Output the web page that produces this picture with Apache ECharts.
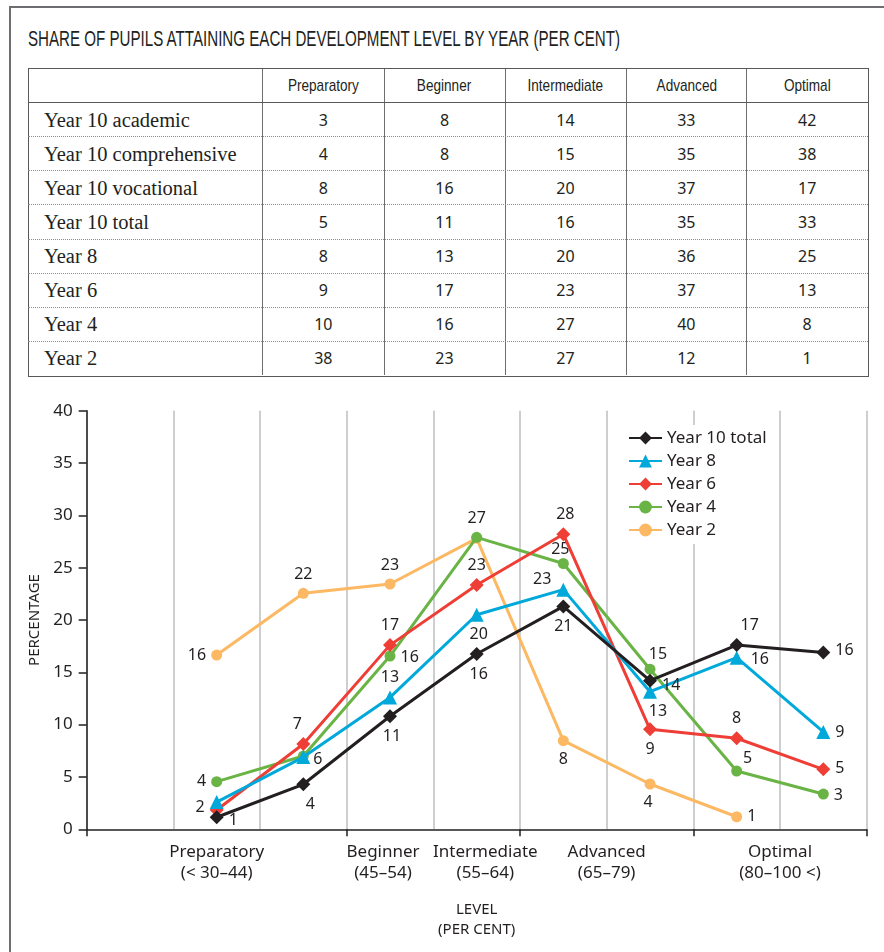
<!DOCTYPE html>
<html>
<head>
<meta charset="utf-8">
<script src="https://cdn.jsdelivr.net/npm/echarts@6/dist/echarts.min.js"></script>
<style>
html,body{margin:0;padding:0;background:#fff;}
#page{position:relative;width:884px;height:952px;overflow:hidden;background:#fff;}
#frame{position:absolute;left:9px;top:6px;width:1000px;height:1100px;border:2px solid #6d6e71;box-sizing:border-box;}
#title{position:absolute;left:28px;top:26px;font-family:'Liberation Sans',Arial,sans-serif;font-size:22px;line-height:26px;color:#231f20;white-space:nowrap;transform-origin:0 0;}
.cell{position:absolute;white-space:nowrap;color:#231f20;}
.hdr{font-family:'Liberation Sans',Arial,sans-serif;font-size:17px;text-align:center;}
.hdr span{display:inline-block;transform-origin:50% 50%;}
.rowlab{font-family:'Liberation Serif','Times New Roman',serif;font-size:20.5px;}
.num{font-family:'Noto Sans',sans-serif;font-size:16px;text-align:center;}
.line{position:absolute;}
#chart{position:absolute;left:0;top:390px;width:884px;height:562px;}
</style>
</head>
<body>
<div id="page">
  <div id="frame"></div>
  <div id="title">SHARE OF PUPILS ATTAINING EACH DEVELOPMENT LEVEL BY YEAR (PER CENT)</div>
  <div id="table"></div>
  <div id="chart"></div>
</div>
<script>
// ---------- Table data ----------
const tableColumns = ['Preparatory', 'Beginner', 'Intermediate', 'Advanced', 'Optimal'];
const tableRowNames = ['Year 10 academic', 'Year 10 comprehensive', 'Year 10 vocational', 'Year 10 total', 'Year 8', 'Year 6', 'Year 4', 'Year 2'];
const rowYear10Academic      = [3, 8, 14, 33, 42];
const rowYear10Comprehensive = [4, 8, 15, 35, 38];
const rowYear10Vocational    = [8, 16, 20, 37, 17];
const rowYear10Total         = [5, 11, 16, 35, 33];
const rowYear8               = [8, 13, 20, 36, 25];
const rowYear6               = [9, 17, 23, 37, 13];
const rowYear4               = [10, 16, 27, 40, 8];
const rowYear2               = [38, 23, 27, 12, 1];
const tableValues = [rowYear10Academic, rowYear10Comprehensive, rowYear10Vocational, rowYear10Total, rowYear8, rowYear6, rowYear4, rowYear2];

// ---------- Chart data ----------
const xPositions = [1.5, 2.5, 3.5, 4.5, 5.5, 6.5, 7.5, 8.5];
const levelLabelPositions = [1.5, 3.42, 4.6, 6, 8];
const levelLabels = ['Preparatory\n(< 30–44)', 'Beginner\n(45–54)', 'Intermediate\n(55–64)', 'Advanced\n(65–79)', 'Optimal\n(80–100 <)'];
const levelTickPositions = [0, 3, 5, 7, 9];

const year10Total       = [1.15, 4.3, 10.8, 16.75, 21.3, 14.2, 17.6, 16.9];
const year10TotalLabels = ['1', '4', '11', '16', '21', '14', '17', '16'];
const year8             = [2.6, 6.9, 12.6, 20.5, 22.9, 13.15, 16.4, 9.3];
const year8Labels       = ['', '6', '13', '20', '23', '13', '16', '9'];
const year6             = [1.84, 8.15, 17.6, 23.35, 28.2, 9.55, 8.7, 5.73];
const year6Labels       = ['2', '7', '17', '23', '28', '9', '8', '5'];
const year4             = [4.55, 7.0, 16.55, 27.9, 25.4, 15.3, 5.57, 3.37];
const year4Labels       = ['4', '', '16', '27', '25', '15', '5', '3'];
const year2             = [16.65, 22.55, 23.44, 27.8, 8.47, 4.33, 1.2];
const year2Labels       = ['16', '22', '23', '', '8', '4', '1'];

// ---------- Build table ----------
(function buildTable(){
  const tb = document.getElementById('table');
  const colX = [28, 262.7, 384, 505, 626, 746.7, 867.7];
  const top = 68.7, headerH = 34, rowH = 34.08;
  const bottom = top + headerH + rowH * tableRowNames.length;
  const add = (html) => { tb.insertAdjacentHTML('beforeend', html); };
  add(`<div class="line" style="left:${colX[0]-0.5}px;top:${top-0.5}px;width:${colX[6]-colX[0]}px;height:${bottom-top}px;border:1.5px solid #58595b;box-sizing:content-box"></div>`);
  for (let i = 1; i < 6; i++) add(`<div class="line" style="left:${colX[i]-0.5}px;top:${top}px;width:0;height:${bottom-top}px;border-left:1.3px solid #6d6e71"></div>`);
  add(`<div class="line" style="left:${colX[0]}px;top:${top+headerH-0.5}px;width:${colX[6]-colX[0]}px;height:0;border-top:1.3px solid #58595b"></div>`);
  for (let r = 1; r < tableRowNames.length; r++) {
    const y = top + headerH + rowH * r;
    add(`<div class="line" style="left:${colX[0]}px;top:${y-0.5}px;width:${colX[6]-colX[0]}px;height:0;border-top:1px dotted #8a8c8e"></div>`);
  }
  tableColumns.forEach((c, i) => {
    add(`<div class="cell hdr" style="left:${colX[i+1]}px;width:${colX[i+2]-colX[i+1]}px;top:${top}px;height:${headerH}px;line-height:${headerH}px"><span>${c}</span></div>`);
  });
  tableRowNames.forEach((name, r) => {
    const y = top + headerH + rowH * r;
    add(`<div class="cell rowlab" style="left:44px;top:${y}px;height:${rowH}px;line-height:${rowH}px">${name}</div>`);
    tableValues[r].forEach((v, i) => {
      add(`<div class="cell num" style="left:${colX[i+1]}px;width:${colX[i+2]-colX[i+1]}px;top:${y}px;height:${rowH}px;line-height:${rowH}px">${v}</div>`);
    });
  });
  const spans = tb.querySelectorAll('.hdr span');
  const w0 = spans[0].getBoundingClientRect().width;
  const k = 71 / w0;
  spans.forEach(s => s.style.transform = `scaleX(${k})`);
  const t = document.getElementById('title');
  const tw = t.getBoundingClientRect().width;
  t.style.transform = `scaleX(${592 / tw})`;
})();

// ---------- Chart ----------
const labelLayout = {
  'Year 10 total': [['right',[0,3]],['bottom',[7,0]],['bottom',[2,0]],['bottom',[2,0]],['bottom',[0,0]],['right',[0,5]],['top',[13,0]],['right',[0,-2]]],
  'Year 8':        [null,['right',[-2,2]],['top',[0,0]],['bottom',[2,0]],['left',[0,-10]],['bottom',[8,0]],['right',[2,2]],['right',[0,0]]],
  'Year 6':        [['left',[0,-3]],['top',[-6,0]],['top',[0,0]],['top',[0,0]],['top',[2,0]],['bottom',[0,0]],['top',[0,0]],['right',[0,-1]]],
  'Year 4':        [['left',[0,0]],null,['right',[0,1]],['top',[0,0]],['top',[-3,4]],['top',[8,4]],['top',[11,6]],['right',[0,1]]],
  'Year 2':        [['left',[0,0]],['top',[0,0]],['top',[0,0]],null,['bottom',[0,0]],['bottom',[-2,0]],['right',[0,0]]]
};

function buildData(name, values, labels) {
  const lay = labelLayout[name];
  return values.map((v, i) => {
    const l = lay[i];
    return {
      value: [xPositions[i], v],
      label: l && labels[i] !== '' ? { show: true, formatter: labels[i], position: l[0], offset: l[1] } : { show: false }
    };
  });
}

const textColor = '#231f20';
const seriesDefs = [
  { name: 'Year 10 total', values: year10Total, labels: year10TotalLabels, color: '#231f20', symbol: 'diamond', size: 14, z: 10 },
  { name: 'Year 8',        values: year8,       labels: year8Labels,       color: '#00a9d9', symbol: 'triangle', size: 14, z: 9 },
  { name: 'Year 6',        values: year6,       labels: year6Labels,       color: '#ee3e36', symbol: 'diamond', size: 14, z: 8 },
  { name: 'Year 4',        values: year4,       labels: year4Labels,       color: '#6ab345', symbol: 'circle', size: 11, z: 7 },
  { name: 'Year 2',        values: year2,       labels: year2Labels,       color: '#fcb862', symbol: 'circle', size: 11, z: 6 }
];

const chart = echarts.init(document.getElementById('chart'), null, { renderer: 'canvas' });
const levelLabelMap = {};
levelLabelPositions.forEach((p, i) => levelLabelMap[String(p)] = levelLabels[i]);

chart.setOption({
  animation: false,
  textStyle: { fontFamily: 'Noto Sans' },
  grid: { left: 86.67, right: 17.33, top: 20.7, bottom: 122.7, containLabel: false },
  legend: {
    orient: 'vertical',
    left: 624,
    top: 35,
    backgroundColor: '#ffffff',
    padding: [3, 6, 4, 4],
    itemWidth: 33,
    itemHeight: 16,
    itemGap: 3,
    textStyle: { fontSize: 17, color: textColor, lineHeight: 20, fontFamily: 'Noto Sans' },
    data: seriesDefs.map(s => s.name)
  },
  xAxis: [
    {
      type: 'value',
      position: 'bottom',
      min: 0, max: 9, interval: 1,
      axisLine: { show: false },
      axisTick: { show: false },
      axisLabel: { show: false },
      splitLine: { show: true, lineStyle: { color: '#bcbec0', width: 1.5 } }
    },
    {
      type: 'value',
      position: 'bottom',
      offset: 0,
      min: 0, max: 9, interval: 1,
      name: 'LEVEL\n(PER CENT)',
      nameLocation: 'middle',
      nameGap: 70,
      nameTextStyle: { fontSize: 15, color: textColor, lineHeight: 20, fontFamily: 'Noto Sans' },
      axisLine: { show: true, lineStyle: { color: '#231f20', width: 1.5 } },
      axisTick: { show: true, customValues: levelTickPositions, length: 7, inside: false, lineStyle: { color: '#231f20', width: 1.5 } },
      axisLabel: {
        customValues: levelLabelPositions,
        formatter: (v) => levelLabelMap[String(v)] || '',
        fontSize: 17, lineHeight: 21, color: textColor, margin: 12, fontFamily: 'Noto Sans'
      },
      splitLine: { show: false }
    }
  ],
  yAxis: {
    type: 'value',
    min: 0, max: 40, interval: 5,
    name: 'PERCENTAGE',
    nameLocation: 'middle',
    nameGap: 44,
    nameTextStyle: { fontSize: 15, color: textColor, fontFamily: 'Noto Sans' },
    axisLine: { show: true, lineStyle: { color: '#231f20', width: 1.5 } },
    axisTick: { show: true, length: 8, lineStyle: { color: '#231f20', width: 1.5 } },
    axisLabel: { fontSize: 17, color: textColor, margin: 14, fontFamily: 'Noto Sans' },
    splitLine: { show: false }
  },
  series: seriesDefs.map(s => ({
    name: s.name,
    type: 'line',
    xAxisIndex: 1,
    z: s.z,
    symbol: s.symbol,
    symbolSize: s.size,
    showAllSymbol: true,
    color: s.color,
    lineStyle: { width: 3, color: s.color },
    itemStyle: { color: s.color },
    label: { fontSize: 16, color: textColor, distance: 5, fontFamily: 'Noto Sans' },
    emphasis: { disabled: true },
    data: buildData(s.name, s.values, s.labels)
  }))
});
</script>
</body>
</html>
